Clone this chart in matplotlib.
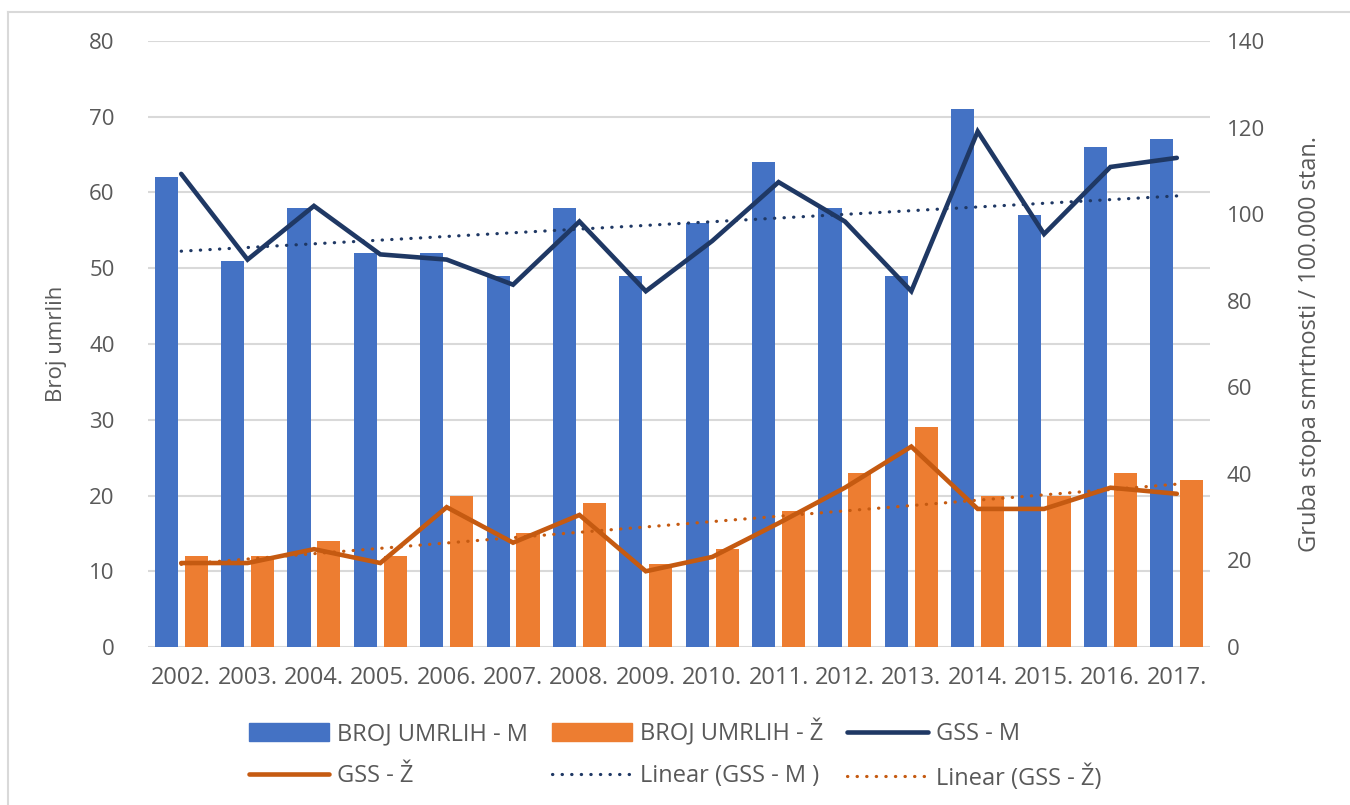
import matplotlib
matplotlib.use("Agg")
import matplotlib.pyplot as plt
from matplotlib.patches import Patch
from matplotlib.lines import Line2D
import numpy as np

years = ["2002.", "2003.", "2004.", "2005.", "2006.", "2007.", "2008.", "2009.",
         "2010.", "2011.", "2012.", "2013.", "2014.", "2015.", "2016.", "2017."]
broj_m = [62, 51, 58, 52, 52, 49, 58, 49, 56, 64, 58, 49, 71, 57, 66, 67]
broj_z = [12, 12, 14, 12, 20, 15, 19, 11, 13, 18, 23, 29, 20, 20, 23, 22]
gss_m = [109.3, 89.5, 101.9, 90.7, 89.5, 83.7, 98.3, 82.2,
         93.8, 107.4, 98.3, 82.2, 119.1, 95.4, 110.9, 113.0]
gss_z = [19.4, 19.4, 22.6, 19.4, 32.3, 24.1, 30.5, 17.5,
         20.8, 28.6, 36.8, 46.3, 31.9, 31.9, 36.8, 35.4]
left_ticks = [0, 10, 20, 30, 40, 50, 60, 70, 80]
right_ticks = [0, 20, 40, 60, 80, 100, 120, 140]

plt.rcParams['font.family'] = ['Open Sans', 'DejaVu Sans']
TXT = "#595959"
C_BM = "#4472C4"
C_BZ = "#ED7D31"
C_GM = "#1F3864"
C_GZ = "#C55A11"
DOT = (0, (0.1, 2.9))

fig = plt.figure(figsize=(13.5, 8.05), dpi=100)
ax = fig.add_axes([148/1350, 1-647/805, (1210-148)/1350, (647-41)/805])
ax2 = ax.twinx()

x = np.arange(len(years))
w = 0.35
ax.bar(x - 0.225, broj_m, width=w, color=C_BM, zorder=2)
ax.bar(x + 0.225, broj_z, width=w, color=C_BZ, zorder=2)
ax.set_ylim(0, 80)
ax.set_xlim(-0.5, len(years) - 0.5)
ax.set_yticks(left_ticks)
ax.yaxis.grid(True, color="#D9D9D9", linewidth=1.5)
ax.set_axisbelow(True)
for s in ax.spines.values():
    s.set_visible(False)
for s in ax2.spines.values():
    s.set_visible(False)
ax.tick_params(axis='y', length=0, pad=24, labelsize=16, labelcolor=TXT)
ax.set_xticks(x)
ax.set_xticklabels(years)
ax.tick_params(axis='x', length=0, pad=14, labelsize=17, labelcolor=TXT)
ax.set_ylabel("Broj umrlih", fontsize=16, color=TXT, labelpad=16)

ax2.plot(x, gss_m, color=C_GM, linewidth=3.3, solid_capstyle='round', solid_joinstyle='miter', zorder=4)
ax2.plot(x, gss_z, color=C_GZ, linewidth=3.3, solid_capstyle='round', solid_joinstyle='miter', zorder=4)
pm = np.polyfit(x, gss_m, 1)
pz = np.polyfit(x, gss_z, 1)
ax2.plot(x, np.polyval(pm, x), color=C_GM, linewidth=2.3, linestyle=DOT,
         dash_capstyle='round', zorder=3)
ax2.plot(x, np.polyval(pz, x), color=C_GZ, linewidth=2.3, linestyle=DOT,
         dash_capstyle='round', zorder=3)
ax2.set_ylim(0, 140)
ax2.set_yticks(right_ticks)
ax2.tick_params(axis='y', length=0, pad=12, labelsize=16, labelcolor=TXT)
ax2.set_ylabel("Gruba stopa smrtnosti / 100.000 stan.", fontsize=17, color=TXT,
               rotation=90, labelpad=24)
ax2.yaxis.set_label_position('right')

handles = [
    Patch(color=C_BM), Line2D([], [], color=C_GZ, linewidth=3.3, solid_capstyle='round'),
    Patch(color=C_BZ), Line2D([], [], color=C_GM, linewidth=2.3, linestyle=DOT, dash_capstyle='round'),
    Line2D([], [], color=C_GM, linewidth=3.3, solid_capstyle='round'),
    Line2D([], [], color=C_GZ, linewidth=2.3, linestyle=DOT, dash_capstyle='round'),
]
labels = ["BROJ UMRLIH - M", "GSS - Ž", "BROJ UMRLIH - Ž", "Linear (GSS - M )",
          "GSS - M", "Linear (GSS - Ž)"]
leg = fig.legend(handles, labels, ncol=3, loc='center', bbox_to_anchor=(0.5, 1-755/805),
                 frameon=False, fontsize=17, handlelength=3.4, handleheight=0.8,
                 columnspacing=1.0, labelspacing=0.75, handletextpad=0.35)
for t in leg.get_texts():
    t.set_color(TXT)

# partial outer frame (left and top)
fig.add_artist(Line2D([8/1350, 8/1350], [0, 1-12/805], color="#D9D9D9", linewidth=1.5,
                      transform=fig.transFigure))
fig.add_artist(Line2D([8/1350, 1], [1-12/805, 1-12/805], color="#D9D9D9", linewidth=1.5,
                      transform=fig.transFigure))

fig.savefig("out.png", dpi=100)
